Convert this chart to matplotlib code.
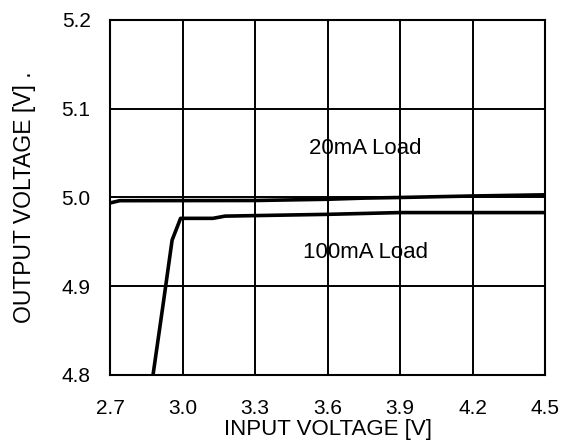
import matplotlib
matplotlib.use("Agg")
import matplotlib.pyplot as plt

plt.rcParams['font.family'] = ['Liberation Sans', 'DejaVu Sans']

# 20mA load curve
vin_20 = [2.70, 2.74, 3.00, 3.30, 3.60, 3.75, 3.90, 4.20, 4.50]
vout_20 = [4.9938, 4.9964, 4.9965, 4.9966, 4.9980, 4.9993, 5.0000, 5.0017, 5.0030]

# 100mA load curve
vin_100 = [2.878, 2.920, 2.957, 2.992, 3.126, 3.176, 3.600, 3.900, 4.200, 4.500]
vout_100 = [4.800, 4.880, 4.952, 4.9765, 4.9765, 4.979, 4.981, 4.983, 4.983, 4.983]

xticks = [2.7, 3.0, 3.3, 3.6, 3.9, 4.2, 4.5]
yticks = [4.8, 4.9, 5.0, 5.1, 5.2]

fig = plt.figure(figsize=(5.65, 4.42), dpi=100)
ax = fig.add_axes([0.1947, 0.1516, 0.7699, 0.8032])

ax.plot(vin_20, vout_20, color='black', linewidth=2.6)
ax.plot(vin_100, vout_100, color='black', linewidth=2.6)

ax.set_xlim(2.7, 4.5)
ax.set_ylim(4.8, 5.2)
ax.set_xticks(xticks)
ax.set_xticklabels([f"{v:.1f}" for v in xticks])
ax.set_yticks(yticks)
ax.set_yticklabels([f"{v:.1f}" for v in yticks])
ax.grid(True, color='black', linewidth=1.4)
ax.tick_params(length=0, labelsize=15)
ax.tick_params(axis='x', pad=17)
ax.tick_params(axis='y', pad=14)
for s in ax.spines.values():
    s.set_linewidth(1.5)

ax.text(3.757, 5.0555, "20mA Load", ha='center', va='center', fontsize=16)
ax.text(3.757, 4.9385, "100mA Load", ha='center', va='center', fontsize=16)

ax.set_xlabel("INPUT VOLTAGE [V]", fontsize=16, labelpad=1)
ax.set_ylabel("OUTPUT VOLTAGE [V] .", fontsize=16.5, labelpad=18)

fig.savefig("out.png", dpi=100)
